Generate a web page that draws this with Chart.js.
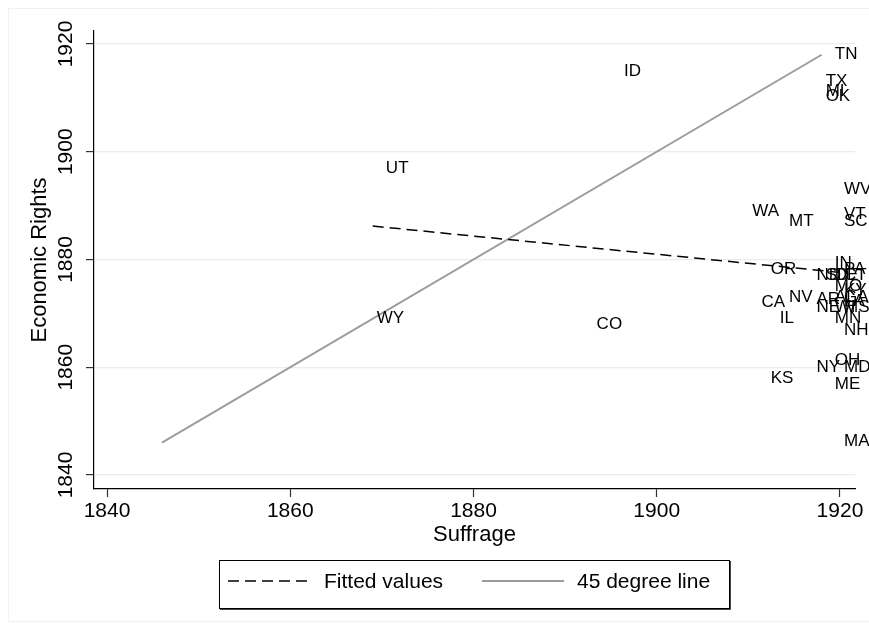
<!DOCTYPE html>
<html>
<head>
<meta charset="utf-8">
<script src="https://cdn.jsdelivr.net/npm/chart.js@4/dist/chart.umd.min.js"></script>
<style>
  html, body { margin: 0; padding: 0; background: #fff; }
</style>
</head>
<body>
<canvas id="myChart" width="869" height="635"></canvas>
<script>
// state labels, year of suffrage (x) and year of economic rights (y)
const states = ["TN", "TX", "MI", "OK", "ID", "UT", "WY", "CO", "WA", "MT",
  "WV", "VT", "SC", "IN", "PA", "OR", "ND", "SD", "DE", "CT",
  "MO", "KY", "NV", "AR", "AL", "GA", "LA", "NE", "WI", "MS",
  "CA", "IL", "MN", "NH", "OH", "NY", "MD", "KS", "ME", "MA"];
const suffrage = [1919, 1918, 1918, 1918, 1896, 1870, 1869, 1893, 1910, 1914,
  1920, 1920, 1920, 1919, 1920, 1912, 1917, 1918, 1919, 1920,
  1919, 1920, 1914, 1917, 1919, 1920, 1920, 1917, 1919, 1920,
  1911, 1913, 1919, 1920, 1919, 1917, 1920, 1912, 1919, 1920];
const econRights = [1918.0, 1913.1, 1911.3, 1910.2, 1915.0, 1897.0, 1869.0, 1868.0, 1889.0, 1887.1,
  1893.1, 1888.3, 1887.0, 1879.2, 1878.1, 1878.1, 1877.0, 1877.0, 1877.0, 1877.0,
  1875.1, 1874.2, 1873.0, 1872.7, 1872.9, 1873.0, 1872.3, 1871.2, 1871.2, 1871.2,
  1872.1, 1869.1, 1869.1, 1866.9, 1861.2, 1860.0, 1860.0, 1858.0, 1856.9, 1846.2];

// fitted values line (end points)
const fitX = [1869, 1920];
const fitY = [1886.2, 1877.6];
// 45 degree line (end points)
const diagX = [1846, 1918];

const xTicks = [1840, 1860, 1880, 1900, 1920];
const yTicks = [1840, 1860, 1880, 1900, 1920];

const FONT = "'Liberation Sans', Arial, Helvetica, sans-serif";
const GRID = "#e6eef0";

const stataPlugin = {
  id: "stata",
  beforeDraw(chart) {
    const c = chart.ctx;
    c.save();
    c.fillStyle = "#fff";
    c.fillRect(0, 0, chart.width, chart.height);
    // outer frame
    c.strokeStyle = "#edf2f4";
    c.lineWidth = 1;
    c.beginPath();
    c.moveTo(869, 8.5);
    c.lineTo(8.5, 8.5);
    c.lineTo(8.5, 621.5);
    c.lineTo(869, 621.5);
    c.stroke();
    c.restore();
  },
  afterDatasetsDraw(chart) {
    const c = chart.ctx;
    const meta = chart.getDatasetMeta(0);
    c.save();
    c.fillStyle = "#000";
    c.font = "17px " + FONT;
    c.textAlign = "left";
    c.textBaseline = "middle";
    meta.data.forEach((pt, i) => {
      c.fillText(states[i], pt.x + 4, pt.y);
    });
    c.restore();
  },
  afterDraw(chart) {
    const c = chart.ctx;
    const ys = chart.scales.y;
    c.save();
    // vertical y tick labels
    c.fillStyle = "#000";
    c.font = "21px " + FONT;
    c.textAlign = "center";
    c.textBaseline = "middle";
    ys.ticks.forEach(t => {
      const py = ys.getPixelForValue(t.value);
      c.save();
      c.translate(66, py);
      c.rotate(-Math.PI / 2);
      c.fillText(String(t.value), 0, 0);
      c.restore();
    });

    // legend box
    const ds = chart.data.datasets;
    c.strokeStyle = "#000";
    c.lineWidth = 1;
    c.strokeRect(219.5, 560.5, 510, 48);
    c.strokeStyle = "#444";
    c.beginPath();
    c.moveTo(220, 609.5); c.lineTo(730.5, 609.5); c.lineTo(730.5, 561);
    c.stroke();

    const items = [
      { ds: ds[1], x0: 228, x1: 309, tx: 324 },
      { ds: ds[2], x0: 482, x1: 564, tx: 577 }
    ];
    items.forEach(it => {
      c.strokeStyle = it.ds.borderColor;
      c.lineWidth = it.ds.borderWidth;
      c.setLineDash(it.ds.borderDash || []);
      c.beginPath();
      c.moveTo(it.x0, 581);
      c.lineTo(it.x1, 581);
      c.stroke();
      c.setLineDash([]);
      c.fillStyle = "#000";
      c.font = "21px " + FONT;
      c.textAlign = "left";
      c.textBaseline = "middle";
      c.fillText(it.ds.label, it.tx, 582);
    });
    c.restore();
  }
};

const ctx = document.getElementById("myChart");

new Chart(ctx, {
  type: "scatter",
  data: {
    datasets: [
      {
        label: "Economic Rights",
        data: states.map((s, i) => ({ x: suffrage[i], y: econRights[i] })),
        pointRadius: 0,
        pointHoverRadius: 0
      },
      {
        label: "Fitted values",
        data: fitX.map((x, i) => ({ x: x, y: fitY[i] })),
        showLine: true,
        borderColor: "#000",
        borderWidth: 1.5,
        borderDash: [11, 6],
        pointRadius: 0
      },
      {
        label: "45 degree line",
        data: diagX.map(x => ({ x: x, y: x })),
        showLine: true,
        borderColor: "#9c9c9c",
        borderWidth: 2,
        pointRadius: 0
      }
    ]
  },
  options: {
    responsive: false,
    animation: false,
    devicePixelRatio: 1,
    layout: { padding: { left: 8, right: 14, top: 31, bottom: 86 } },
    scales: {
      x: {
        type: "linear",
        min: 1838.58,
        max: 1921.64,
        afterBuildTicks: s => { s.ticks = xTicks.map(v => ({ value: v })); },
        afterFit: s => { s.height = 60; },
        grid: { drawOnChartArea: false, tickLength: 8, tickColor: "#333", tickWidth: 1.2 },
        border: { color: "#000", width: 1.2 },
        ticks: {
          color: "#000", font: { family: FONT, size: 21 }, padding: 2, maxRotation: 0,
          callback: v => String(v)
        },
        title: {
          display: true, text: "Suffrage", color: "#000",
          font: { family: FONT, size: 22 }, padding: { top: 0, bottom: 1 }
        }
      },
      y: {
        type: "linear",
        min: 1837.4,
        max: 1922.41,
        afterBuildTicks: s => { s.ticks = yTicks.map(v => ({ value: v })); },
        afterFit: s => { s.width = 86; },
        grid: { color: GRID, lineWidth: 1.2, tickLength: 8, tickColor: "#333", tickWidth: 1.2 },
        border: { color: "#000", width: 1.2 },
        ticks: { display: false },
        title: {
          display: true, text: "Economic Rights", color: "#000",
          font: { family: FONT, size: 22 }, padding: { top: 19, bottom: 0 }
        }
      }
    },
    plugins: {
      legend: { display: false },
      tooltip: { enabled: false }
    }
  },
  plugins: [stataPlugin]
});
</script>
</body>
</html>
